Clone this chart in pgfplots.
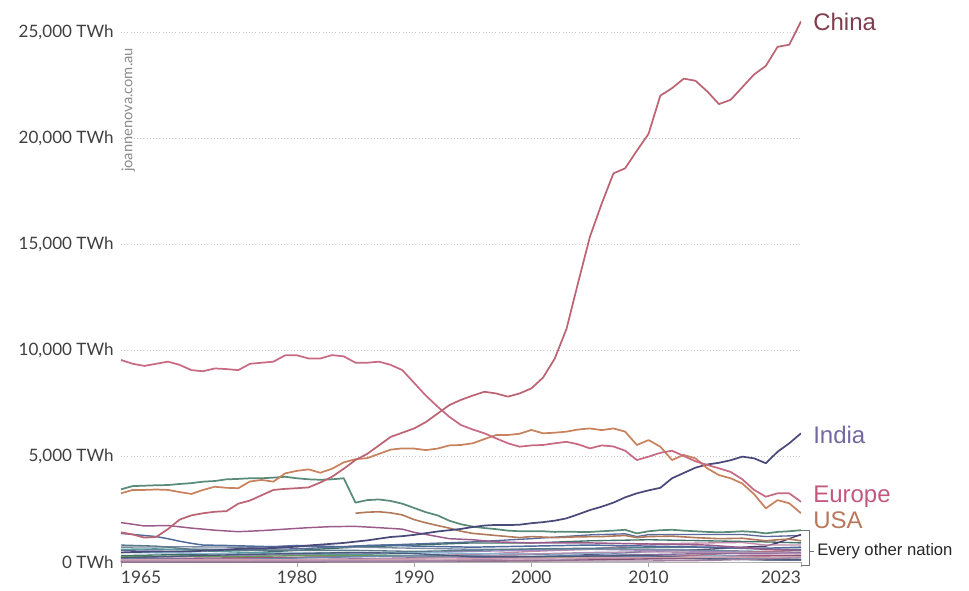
\documentclass[border=0pt]{standalone}
\usepackage{fontspec}
\setmainfont{Lato}
\newfontfamily\arial{Liberation Sans}
\usepackage{pgfplots}
\usepackage{pgfplotstable}
\pgfplotsset{compat=1.18}
\definecolor{cChina}{HTML}{BC6474}
\definecolor{cChinaL}{HTML}{7E3E4E}
\definecolor{cEur}{HTML}{C86A82}
\definecolor{cEurL}{HTML}{C2587E}
\definecolor{cUSA}{HTML}{C8825E}
\definecolor{cUSAL}{HTML}{B9785C}
\definecolor{cInd}{HTML}{4A4A7A}
\definecolor{cIndL}{HTML}{7468A2}
\definecolor{cUSSR}{HTML}{5A8A78}
\definecolor{cBrown}{HTML}{B07A5A}
\definecolor{cPurp}{HTML}{9A5A8A}
\definecolor{cBlue}{HTML}{4E6A9A}
\definecolor{m1}{HTML}{5A6A9A}
\definecolor{m2}{HTML}{3E6F6A}
\definecolor{m3}{HTML}{4A3A6A}
\definecolor{m4}{HTML}{C08AA8}
\definecolor{m5}{HTML}{9D8BC0}
\definecolor{m6}{HTML}{A0507A}
\definecolor{m7}{HTML}{5A9A9A}
\definecolor{m8}{HTML}{8AB4D0}
\definecolor{m9}{HTML}{6A9A5A}
\definecolor{m10}{HTML}{7A8AA0}
\definecolor{m11}{HTML}{B07080}
\definecolor{m12}{HTML}{8A6A9A}
\definecolor{m13}{HTML}{6A8AB0}
\definecolor{m14}{HTML}{B090B0}
\definecolor{m15}{HTML}{C0A0C0}
\definecolor{m16}{HTML}{805070}
\definecolor{m17}{HTML}{4A5A7A}
\definecolor{m18}{HTML}{5A7A8A}
\definecolor{m19}{HTML}{A080A0}
\definecolor{m20}{HTML}{D0A0B0}

\pgfplotstableread{
year china europe usa india ussr
1965 1400 9530 3240 450 3430
1966 1300 9350 3400 470 3580
1967 1150 9250 3400 480 3600
1968 1180 9350 3420 500 3620
1969 1550 9450 3400 500 3630
1970 2000 9300 3300 500 3680
1971 2200 9050 3210 500 3720
1972 2300 9000 3400 530 3790
1973 2370 9130 3550 550 3820
1974 2400 9100 3500 580 3900
1975 2750 9050 3480 620 3920
1976 2900 9350 3800 650 3950
1977 3150 9400 3870 650 3950
1978 3400 9450 3790 660 3980
1979 3450 9750 4180 700 4020
1980 3480 9750 4300 720 3950
1981 3520 9600 4370 780 3900
1982 3750 9600 4210 820 3880
1983 4020 9760 4400 860 3900
1984 4400 9700 4700 900 3950
1985 4810 9400 4850 960 2800
1986 5100 9400 4900 1020 2920
1987 5500 9450 5100 1100 2950
1988 5900 9300 5300 1180 2880
1989 6100 9050 5360 1220 2750
1990 6300 8450 5350 1280 2550
1991 6600 7850 5280 1360 2350
1992 7000 7330 5350 1440 2200
1993 7400 6850 5500 1500 1950
1994 7650 6460 5520 1560 1780
1995 7850 6250 5600 1650 1670
1996 8030 6070 5800 1720 1600
1997 7950 5830 5990 1750 1550
1998 7800 5600 5990 1740 1480
1999 7950 5440 6050 1760 1450
2000 8190 5500 6230 1830 1450
2001 8700 5520 6070 1880 1450
2002 9600 5600 6100 1950 1420
2003 11000 5670 6150 2060 1430
2004 13200 5550 6250 2250 1420
2005 15350 5360 6300 2450 1420
2006 16900 5500 6220 2610 1450
2007 18330 5450 6300 2800 1480
2008 18570 5250 6150 3050 1520
2009 19400 4810 5520 3240 1350
2010 20200 4970 5750 3380 1450
2011 22000 5150 5440 3500 1500
2012 22350 5250 4810 3950 1520
2013 22800 5000 5050 4200 1480
2014 22700 4750 4890 4450 1450
2015 22200 4580 4420 4600 1420
2016 21600 4420 4100 4680 1400
2017 21800 4250 3950 4800 1420
2018 22400 3900 3700 4970 1450
2019 23000 3400 3200 4890 1420
2020 23400 3080 2530 4660 1350
2021 24300 3240 2920 5200 1420
2022 24400 3240 2770 5600 1450
2023 25500 2840 2300 6070 1500
}\majortable

\begin{document}
\begin{tikzpicture}
\begin{axis}[
  scale only axis,
  width=510pt, height=421.35pt,
  xmin=1965, xmax=2023, ymin=0, ymax=26500,
  axis lines*=left,
  y axis line style={draw=none},
  x axis line style={black!30},
  xtick={1965,1980,1990,2000,2010,2023},
  xticklabels={\rlap{1965},1980,1990,2000,2010,\llap{2023}},
  ytick={0,5000,10000,15000,20000,25000},
  yticklabels={0 TWh,{5,000 TWh},{10,000 TWh},{15,000 TWh},{20,000 TWh},{25,000 TWh}},
  tick align=outside,
  major tick length=4pt,
  xtick style={black!35, line width=0.5pt},
  ytick style={draw=none},
  ymajorgrids,
  grid style={black!22, dotted, line width=0.7pt},
  xticklabel style={font=\fontsize{13}{15}\selectfont, text=black!75, yshift=1pt},
  yticklabel style={font=\fontsize{12.8}{14}\selectfont, text=black!75, xshift=2pt},
  every axis plot/.append style={line join=round, mark=none},
]
% ---- every other nation (minor series) ----
\addplot[color=m1, line width=1pt] coordinates {(1965,550)(1970,600)(1975,600)(1980,620)(1985,750)(1990,850)(1995,950)(2000,1100)(2005,1280)(2008,1330)(2009,1200)(2010,1290)(2012,1300)(2015,1300)(2018,1300)(2020,1200)(2023,1250)};
\addplot[color=m2, line width=1pt] coordinates {(1965,300)(1970,350)(1975,400)(1980,550)(1985,700)(1990,800)(1995,900)(2000,900)(2005,1000)(2010,1050)(2015,1000)(2020,950)(2023,900)};
\addplot[color=m3, line width=1pt] coordinates {(1965,10)(1980,10)(1990,50)(1995,100)(2000,200)(2005,350)(2010,500)(2015,600)(2018,700)(2020,750)(2021,900)(2022,1100)(2023,1300)};
\addplot[color=m4, line width=1pt] coordinates {(1965,100)(1970,120)(1975,150)(1980,200)(1985,280)(1990,300)(1995,350)(2000,500)(2005,600)(2010,850)(2015,900)(2018,920)(2020,800)(2023,800)};
\addplot[color=m5, line width=1pt] coordinates {(1965,200)(1970,250)(1975,300)(1980,350)(1985,400)(1990,450)(1995,500)(2000,550)(2005,600)(2010,550)(2015,500)(2020,450)(2023,400)};
\addplot[color=m6, line width=1pt] coordinates {(1965,150)(1975,200)(1985,250)(1990,300)(1995,200)(2000,200)(2005,250)(2010,300)(2015,300)(2020,320)(2023,320)};
\addplot[color=m7, line width=1pt] coordinates {(1965,600)(1968,620)(1970,580)(1973,500)(1976,450)(1980,400)(1985,350)(1990,300)(1995,280)(2000,250)(2010,200)(2020,150)(2023,120)};
\addplot[color=m8, line width=1pt] coordinates {(1965,450)(1970,420)(1975,380)(1980,420)(1985,450)(1990,450)(1995,400)(2000,380)(2005,400)(2010,350)(2015,300)(2020,250)(2023,200)};
\addplot[color=m9, line width=1pt] coordinates {(1965,250)(1970,280)(1975,250)(1980,300)(1985,300)(1990,300)(1995,300)(2000,250)(2005,200)(2010,180)(2015,150)(2020,120)(2023,100)};
\addplot[color=m10, line width=1pt] coordinates {(1965,700)(1970,720)(1975,700)(1980,750)(1985,700)(1990,650)(1995,600)(2000,600)(2005,620)(2010,600)(2015,550)(2020,500)(2023,450)};
\addplot[color=m11, line width=1pt] coordinates {(1965,30)(1990,50)(2000,80)(2005,150)(2010,200)(2015,350)(2020,500)(2023,550)};
\addplot[color=m12, line width=1pt] coordinates {(1965,50)(1975,80)(1985,150)(1990,200)(2000,250)(2010,350)(2015,400)(2020,400)(2023,450)};
\addplot[color=m13, line width=1pt] coordinates {(1965,150)(1975,120)(1985,250)(1990,300)(1995,300)(2000,350)(2005,300)(2010,250)(2015,200)(2020,100)(2023,80)};
\addplot[color=m14, line width=1pt] coordinates {(1965,40)(1975,50)(1985,120)(1990,180)(1995,250)(2000,380)(2005,450)(2010,480)(2015,450)(2020,450)(2023,400)};
\addplot[color=m15, line width=1pt] coordinates {(1965,20)(1980,50)(1990,80)(2000,100)(2010,150)(2020,120)(2023,100)};
\addplot[color=m16, line width=1pt] coordinates {(1965,10)(1990,20)(2000,50)(2010,150)(2015,200)(2020,250)(2023,300)};
\addplot[color=m17, line width=1pt] coordinates {(1965,200)(1975,350)(1985,450)(1990,400)(1995,250)(2000,250)(2005,280)(2010,300)(2015,150)(2020,100)(2023,100)};
\addplot[color=m18, line width=1pt] coordinates {(1965,800)(1968,750)(1971,600)(1975,550)(1980,550)(1985,550)(1990,500)(1995,550)(2000,620)(2005,650)(2010,680)(2015,700)(2020,600)(2023,600)};
\addplot[color=m19, line width=1pt] coordinates {(1965,30)(1990,40)(2000,50)(2010,50)(2015,70)(2020,150)(2023,200)};
\addplot[color=m20, line width=1pt] coordinates {(1965,100)(1975,100)(1985,120)(1995,150)(2005,200)(2015,220)(2023,250)};
% ---- mid-sized series ----
\addplot[color=cBlue, line width=1.1pt] coordinates {(1965,1350)(1966,1300)(1967,1250)(1968,1200)(1969,1100)(1970,980)(1971,880)(1972,800)(1974,780)(1976,750)(1978,720)(1980,780)(1982,750)(1984,720)(1986,780)(1988,800)(1990,750)(1995,700)(2000,750)(2005,800)(2010,750)(2015,700)(2020,650)(2023,700)};
\addplot[color=cPurp, line width=1.1pt] coordinates {(1965,1860)(1967,1700)(1969,1720)(1971,1600)(1973,1500)(1975,1430)(1977,1480)(1979,1550)(1981,1620)(1983,1670)(1985,1680)(1987,1620)(1989,1550)(1990,1400)(1991,1300)(1992,1200)(1993,1100)(1995,1050)(1997,950)(2000,900)(2005,900)(2010,850)(2015,800)(2020,600)(2023,550)};
\addplot[color=cBrown, line width=1.2pt] coordinates {(1985,2300)(1986,2350)(1987,2370)(1988,2320)(1989,2220)(1990,2000)(1991,1850)(1992,1720)(1993,1600)(1994,1450)(1995,1350)(1996,1300)(1997,1250)(1998,1200)(1999,1150)(2000,1200)(2002,1150)(2004,1190)(2006,1200)(2008,1250)(2009,1150)(2010,1200)(2012,1220)(2014,1150)(2016,1100)(2018,1120)(2020,1000)(2021,1050)(2022,1080)(2023,1000)};
\addplot[color=cUSSR, line width=1.3pt] table[x=year, y=ussr] {\majortable};
% ---- major series ----
\addplot[color=cInd, line width=1.3pt] table[x=year, y=india] {\majortable};
\addplot[color=cUSA, line width=1.3pt] table[x=year, y=usa] {\majortable};
\addplot[color=cEur, line width=1.3pt] table[x=year, y=europe] {\majortable};
\addplot[color=cChina, line width=1.3pt] table[x=year, y=china] {\majortable};
\end{axis}
% watermark
\node[rotate=90, text=black!45, font=\fontsize{11}{12}\selectfont] at (5.5pt,339pt) {joannenova.com.au};
% end labels
\node[anchor=west, inner sep=0pt, text=cChinaL, font=\arial\fontsize{18}{20}\selectfont] at (519pt,405pt) {China};
\node[anchor=west, inner sep=0pt, text=cIndL, font=\arial\fontsize{18}{20}\selectfont] at (519pt,95.25pt) {India};
\node[anchor=west, inner sep=0pt, text=cEurL, font=\arial\fontsize{18}{20}\selectfont] at (519pt,48.75pt) {Europe};
\node[anchor=west, inner sep=0pt, text=cUSAL, font=\arial\fontsize{18}{20}\selectfont] at (519pt,31.5pt) {USA};
\draw[black!55, line width=0.6pt] (510pt,24pt) -- (516pt,24pt) -- (516pt,-2.25pt) -- (510pt,-2.25pt);
\draw[black!55, line width=0.6pt] (516pt,8.25pt) -- (519.5pt,8.25pt);
\node[anchor=west, inner sep=0pt, text=black!85, font=\arial\fontsize{12.5}{14}\selectfont] at (522pt,8.25pt) {Every other nation};
\pgfresetboundingbox
\useasboundingbox (-90.75pt,-21pt) rectangle (636pt,421.5pt);
\end{tikzpicture}
\end{document}
